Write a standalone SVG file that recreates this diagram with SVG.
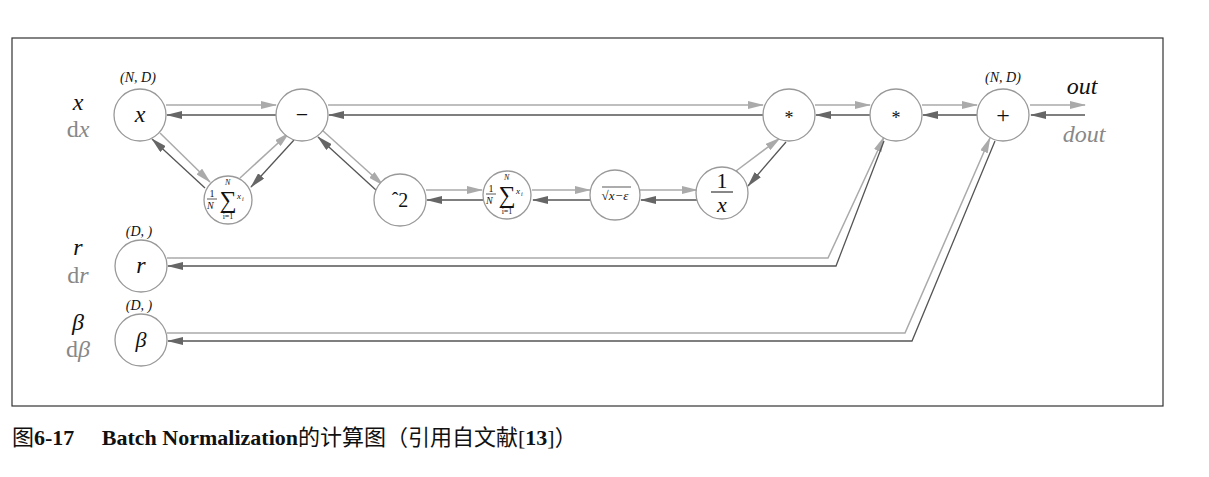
<svg xmlns="http://www.w3.org/2000/svg" width="1209" height="477" viewBox="0 0 1209 477">
<style>
.n{fill:#fff;stroke:#999;stroke-width:1.3}
.f{stroke:#aaa;stroke-width:1.5;fill:none;marker-end:url(#af)}
.b{stroke:#555;stroke-width:1.3;fill:none;marker-end:url(#ab)}
.m{font-family:"Liberation Serif",serif;font-style:italic;fill:#111}
.g{font-family:"Liberation Serif",serif;font-style:italic;fill:#888}
.t{font-family:"Liberation Serif",serif;fill:#111;text-anchor:middle}
</style>
<defs>
<marker id="af" markerWidth="16" markerHeight="8" refX="15" refY="4" orient="auto" markerUnits="userSpaceOnUse"><path d="M0,0L16,4L0,8z" fill="#aaa"/></marker>
<marker id="ab" markerWidth="16" markerHeight="8" refX="15" refY="4" orient="auto" markerUnits="userSpaceOnUse"><path d="M0,0L16,4L0,8z" fill="#666"/></marker>
</defs>
<rect x="12" y="38" width="1151" height="368" fill="#fff" stroke="#333" stroke-width="1.2"/>
<g id="connectors">
<path class="f" d="M166,105H276"/><path class="b" d="M277,115H167"/>
<path class="f" d="M328,105H763"/><path class="b" d="M764,115H329"/>
<path class="f" d="M815,105H870"/><path class="b" d="M871,115H816"/>
<path class="f" d="M922,105H977"/><path class="b" d="M978,115H923"/>
<path class="f" d="M1030,105H1085"/><path class="b" d="M1085,115H1031"/>
<path class="f" d="M160,133L210,182"/><path class="b" d="M205,188L152,139"/>
<path class="f" d="M240,178L289,133"/><path class="b" d="M294,140L251,187"/>
<path class="f" d="M322,130L383,185"/><path class="b" d="M377,191L318,137"/>
<path class="f" d="M426,190H482"/><path class="b" d="M483,200H427"/>
<path class="f" d="M532,190H590"/><path class="b" d="M590,200H533"/>
<path class="f" d="M640,190H697"/><path class="b" d="M697,200H641"/>
<path class="f" d="M736,171L780,138"/><path class="b" d="M786,142L748,186"/>
<path class="f" d="M167,258H828L884,137"/><path class="b" d="M884,141L836,266H168"/>
<path class="f" d="M167,333H905L990,138"/><path class="b" d="M995,141L912,341H168"/>
</g>
<g id="n_x"><circle class="n" cx="140" cy="115" r="26"/><text class="m" x="140" y="122" font-size="24" text-anchor="middle">x</text></g>
<g id="n_minus"><circle class="n" cx="302" cy="115" r="26"/><text class="t" x="302" y="122" font-size="22">−</text></g>
<g id="n_mean1"><circle class="n" cx="228" cy="200" r="24"/>
<text class="t" x="212" y="197" font-size="10">1</text><line x1="207" y1="199" x2="217" y2="199" stroke="#111" stroke-width="0.7"/><text class="m" x="207" y="209" font-size="10">N</text>
<text class="t" x="228" y="208" font-size="24">∑</text><text class="m" x="225" y="185" font-size="8">N</text><text class="t" x="228" y="219" font-size="8">i=1</text><text class="m" x="237" y="199" font-size="9">x</text><text class="m" x="242" y="201" font-size="6">i</text></g>
<g id="n_sq"><circle class="n" cx="400" cy="200" r="26"/><text class="t" x="400" y="207" font-size="20">ˆ2</text></g>
<g id="n_mean2"><circle class="n" cx="507" cy="195" r="24"/>
<text class="t" x="491" y="192" font-size="10">1</text><line x1="486" y1="194" x2="496" y2="194" stroke="#111" stroke-width="0.7"/><text class="m" x="486" y="204" font-size="10">N</text>
<text class="t" x="507" y="203" font-size="24">∑</text><text class="m" x="504" y="180" font-size="8">N</text><text class="t" x="507" y="214" font-size="8">i=1</text><text class="m" x="516" y="194" font-size="9">x</text><text class="m" x="521" y="196" font-size="6">i</text></g>
<g id="n_sqrt"><circle class="n" cx="615" cy="195" r="25"/><text class="m" x="615" y="200" font-size="13" text-anchor="middle">√x−ε</text><line x1="602" y1="187" x2="631" y2="187" stroke="#111" stroke-width="0.7"/></g>
<g id="n_inv"><circle class="n" cx="722" cy="193" r="26"/><text class="t" x="722" y="188" font-size="22">1</text><line x1="711" y1="192" x2="733" y2="192" stroke="#111"/><text class="m" x="722" y="212" font-size="22" text-anchor="middle">x</text></g>
<g id="n_mul1"><circle class="n" cx="789" cy="115" r="26"/><text class="t" x="789" y="124" font-size="18">*</text></g>
<g id="n_mul2"><circle class="n" cx="896" cy="115" r="26"/><text class="t" x="896" y="124" font-size="18">*</text></g>
<g id="n_plus"><circle class="n" cx="1003" cy="115" r="26"/><text class="t" x="1003" y="123" font-size="24">+</text></g>
<g id="n_r"><circle class="n" cx="141" cy="266" r="26"/><text class="m" x="141" y="273" font-size="24" text-anchor="middle">r</text></g>
<g id="n_beta"><circle class="n" cx="141" cy="340" r="26"/><text class="m" x="141" y="347" font-size="22" text-anchor="middle">β</text></g>
<g id="labels" font-size="24">
<text class="m" x="78" y="110" text-anchor="middle">x</text><text class="g" x="78" y="137" text-anchor="middle"><tspan font-style="normal">d</tspan>x</text>
<text class="m" x="78" y="255" text-anchor="middle">r</text><text class="g" x="78" y="283" text-anchor="middle"><tspan font-style="normal">d</tspan>r</text>
<text class="m" x="78" y="330" text-anchor="middle">β</text><text class="g" x="78" y="357" text-anchor="middle"><tspan font-style="normal">d</tspan>β</text>
<text class="m" x="1082" y="94" text-anchor="middle">out</text><text class="g" x="1084" y="142" text-anchor="middle">dout</text>
<text class="m" x="138" y="82" font-size="14" text-anchor="middle">(N, D)</text>
<text class="m" x="1003" y="82" font-size="14" text-anchor="middle">(N, D)</text>
<text class="m" x="139" y="236" font-size="14" text-anchor="middle">(D, )</text>
<text class="m" x="139" y="310" font-size="14" text-anchor="middle">(D, )</text>
</g>
<text x="12" y="445" font-size="22" fill="#111" font-family="Liberation Serif,Noto Sans CJK SC,serif">图<tspan font-weight="bold">6-17　 Batch Normalization</tspan>的计算图（引用自文献[<tspan font-weight="bold">13</tspan>]）</text>
</svg>
